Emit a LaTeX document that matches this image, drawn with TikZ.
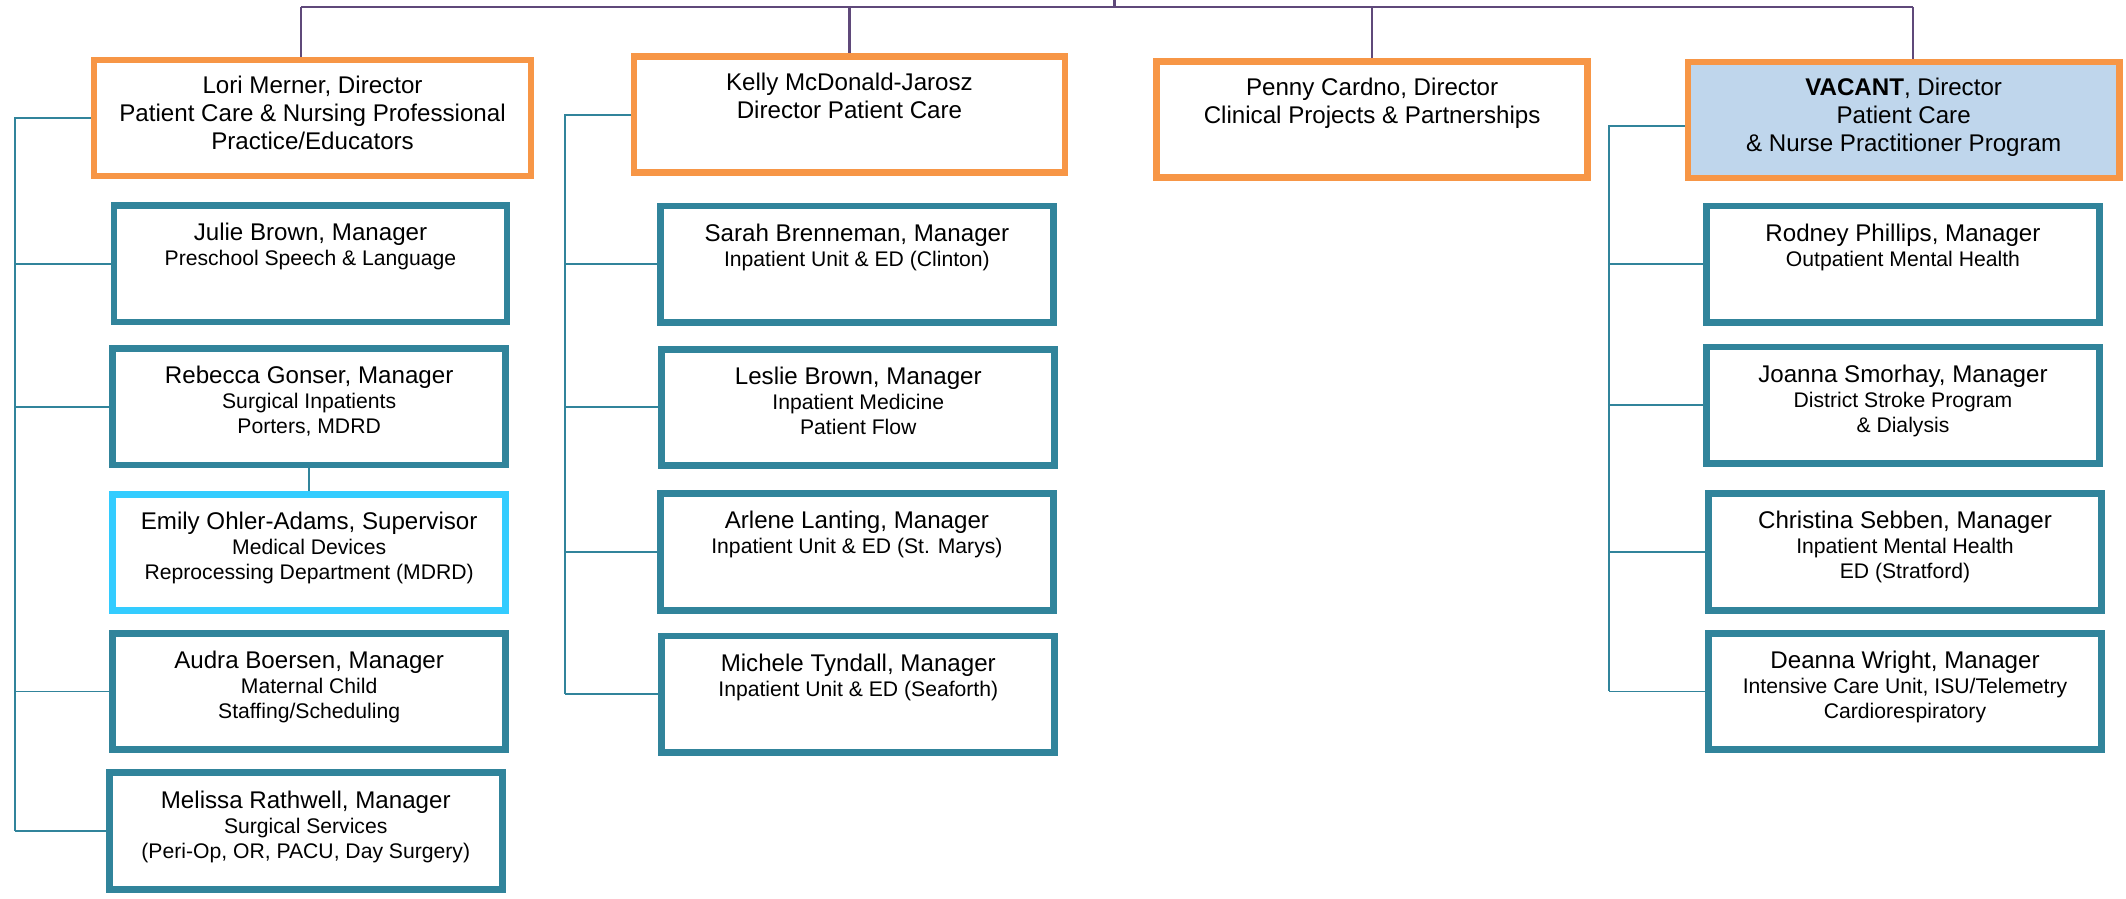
\documentclass[tikz,border=0pt]{standalone}
\usepackage{fontspec}
\setmainfont{Liberation Sans}

\definecolor{orgorange}{HTML}{F79646}
\definecolor{orgteal}{HTML}{31849B}
\definecolor{orgcyan}{HTML}{33CCFF}
\definecolor{orgpurple}{HTML}{5F497A}
\definecolor{vacantblue}{HTML}{BFD6EC}

\newcommand{\boxrows}[1]{\begin{tabular}[t]{@{}c@{}}#1\end{tabular}}
\newcommand{\mgrname}[1]{{\fontsize{17.8}{18.5}\selectfont #1}}

\begin{document}
\begin{tikzpicture}[x=1pt,y=-1pt,
  director/.style={draw=orgorange,line width=4.8pt,fill=white,minimum width=318pt,
    inner sep=0pt,text height=25pt,text depth=60.5pt,
    font=\fontsize{17.8}{20.5}\selectfont},
  manager/.style={draw=orgteal,line width=5pt,fill=white,minimum width=290pt,
    inner sep=0pt,text height=26pt,text depth=60pt,
    font=\fontsize{15.6}{18.5}\selectfont},
  supervisor/.style={manager,draw=orgcyan},
  bar/.style={draw=orgpurple,line width=1.6pt},
  link/.style={draw=orgteal,line width=1.4pt}]

  \useasboundingbox (0,0) rectangle (1568,663);

  % Directors
  \node[director,minimum width=322pt] (lori) at (230.5,87) {\boxrows{Lori Merner, Director\\Patient Care \& Nursing Professional\\Practice/Educators}};
  \node[director] (kelly) at (626.5,84.5) {\boxrows{Kelly McDonald-Jarosz\\Director Patient Care}};
  \node[director] (penny) at (1012,88) {\boxrows{Penny Cardno, Director\\Clinical Projects \& Partnerships}};
  \node[director,fill=vacantblue] (vacant) at (1404,88.5) {\boxrows{\textbf{VACANT}, Director\\Patient Care\\\& Nurse Practitioner Program}};

  % Managers under Lori Merner
  \node[manager] (julie) at (229,194.5) {\boxrows{\mgrname{Julie Brown, Manager}\\Preschool Speech \& Language}};
  \node[manager] (rebecca) at (228,300) {\boxrows{\mgrname{Rebecca Gonser, Manager}\\Surgical Inpatients\\Porters, MDRD}};
  \node[supervisor] (emily) at (228,407.5) {\boxrows{\mgrname{Emily Ohler-Adams, Supervisor}\\Medical Devices\\Reprocessing Department (MDRD)}};
  \node[manager] (audra) at (228,510) {\boxrows{\mgrname{Audra Boersen, Manager}\\Maternal Child\\Staffing/Scheduling}};
  \node[manager] (melissa) at (225.5,613) {\boxrows{\mgrname{Melissa Rathwell, Manager}\\Surgical Services\\(Peri-Op, OR, PACU, Day Surgery)}};

  % Managers under Kelly McDonald-Jarosz
  \node[manager] (sarah) at (632,195) {\boxrows{\mgrname{Sarah Brenneman, Manager}\\Inpatient Unit \& ED (Clinton)}};
  \node[manager] (leslie) at (633,300.5) {\boxrows{\mgrname{Leslie Brown, Manager}\\Inpatient Medicine\\Patient Flow}};
  \node[manager] (arlene) at (632,407) {\boxrows{\mgrname{Arlene Lanting, Manager}\\Inpatient Unit \& ED (St. Marys)}};
  \node[manager] (michele) at (633,512) {\boxrows{\mgrname{Michele Tyndall, Manager}\\Inpatient Unit \& ED (Seaforth)}};

  % Managers under the vacant director
  \node[manager] (rodney) at (1403.5,195) {\boxrows{\mgrname{Rodney Phillips, Manager}\\Outpatient Mental Health}};
  \node[manager] (joanna) at (1403.5,299) {\boxrows{\mgrname{Joanna Smorhay, Manager}\\District Stroke Program\\\& Dialysis}};
  \node[manager] (christina) at (1405,407) {\boxrows{\mgrname{Christina Sebben, Manager}\\Inpatient Mental Health\\ED (Stratford)}};
  \node[manager] (deanna) at (1405,510) {\boxrows{\mgrname{Deanna Wright, Manager}\\Intensive Care Unit, ISU/Telemetry\\Cardiorespiratory}};

  % Top bar
  \coordinate (top) at (822,0);
  \coordinate (barL) at (222,5);
  \coordinate (barR) at (1411,5);
  \draw[bar] (barL) -- (barR);
  \draw[bar] (top) -- (top |- barL);
  \draw[bar] (barL) -- (barL |- lori.north);
  \draw[bar] (kelly.north |- barL) -- (kelly.north);
  \draw[bar] (penny.north |- barL) -- (penny.north);
  \draw[bar] (barR) -- (barR |- vacant.north);

  % Spines
  \coordinate (lspine) at (11,0);
  \coordinate (kspine) at (417,0);
  \coordinate (vspine) at (1187,0);
  \draw[link] (lori.west) -| (lspine |- melissa.west);
  \foreach \m in {julie,rebecca,audra,melissa}
    \draw[link] (lspine |- \m.west) -- (\m.west);
  \draw[link] (rebecca.south) -- (emily.north);
  \draw[link] (kelly.west) -| (kspine |- michele.west);
  \foreach \m in {sarah,leslie,arlene,michele}
    \draw[link] (kspine |- \m.west) -- (\m.west);
  \draw[link] ([yshift=-4.5pt]vacant.west) -| (vspine |- deanna.west);
  \foreach \m in {rodney,joanna,christina,deanna}
    \draw[link] (vspine |- \m.west) -- (\m.west);

\end{tikzpicture}
\end{document}
